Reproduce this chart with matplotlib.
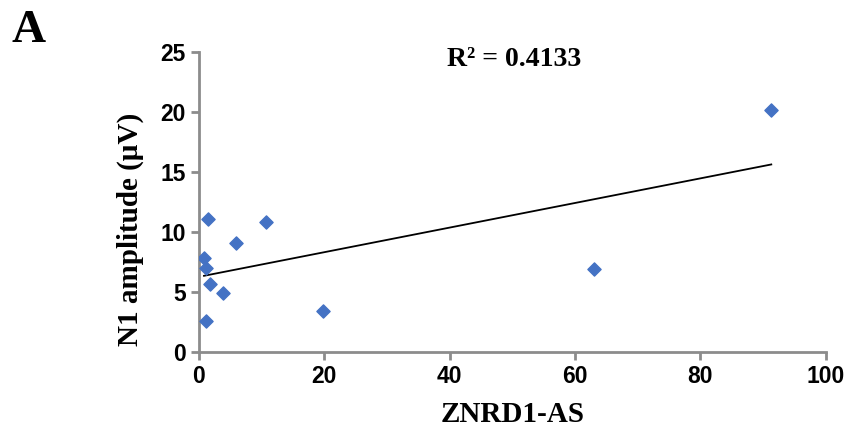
import numpy as np
import matplotlib.pyplot as plt

# ZNRD1-AS expression vs N1 amplitude
znrd1_as = [1.5, 10.7, 5.9, 0.8, 1.1, 1.8, 3.9, 1.1, 19.8, 91.3, 63.0]
n1_amp = [11.1, 10.8, 9.1, 7.8, 7.0, 5.7, 4.9, 2.6, 3.4, 20.2, 6.9]

x_ticks = [0, 20, 40, 60, 80, 100]
y_ticks = [0, 5, 10, 15, 20, 25]

fig = plt.figure(figsize=(8.54, 4.41), dpi=100)
ax = fig.add_axes([0.233, 0.202, 0.734, 0.680])

ax.scatter(znrd1_as, n1_amp, marker='D', s=45, color='#4472C4', zorder=3)

# linear trendline
slope, intercept = np.polyfit(znrd1_as, n1_amp, 1)
xs = np.array([min(znrd1_as), max(znrd1_as)])
ax.plot(xs, slope * xs + intercept, color='black', linewidth=1.3)

ax.set_xlim(0, 100)
ax.set_ylim(0, 25)
ax.set_xticks(x_ticks)
ax.set_yticks(y_ticks)

for s in ['top', 'right']:
    ax.spines[s].set_visible(False)
for s in ['left', 'bottom']:
    ax.spines[s].set_color('#8c8c8c')
    ax.spines[s].set_linewidth(2)
ax.tick_params(colors='#8c8c8c', width=2, length=6, labelcolor='black')
for lbl in ax.get_xticklabels() + ax.get_yticklabels():
    lbl.set_fontfamily('Liberation Sans')
    lbl.set_fontweight('bold')
    lbl.set_fontsize(16.5)

ax.set_xlabel('ZNRD1-AS', fontfamily='Liberation Serif', fontweight='bold', fontsize=21)
ax.xaxis.set_label_coords(0.5, -0.165)
ax.set_ylabel('N1 amplitude (μV)', fontfamily='Liberation Serif', fontweight='bold', fontsize=21)
ax.yaxis.set_label_coords(-0.088, 0.41)

ax.text(0.503, 0.975, 'R² = 0.4133', transform=ax.transAxes, ha='center',
        fontfamily='Liberation Serif', fontweight='bold', fontsize=20, va='center')
fig.text(0.014, 0.93, 'A', fontfamily='Liberation Serif', fontweight='bold', fontsize=34, va='center')

plt.savefig('out.png', dpi=100)
